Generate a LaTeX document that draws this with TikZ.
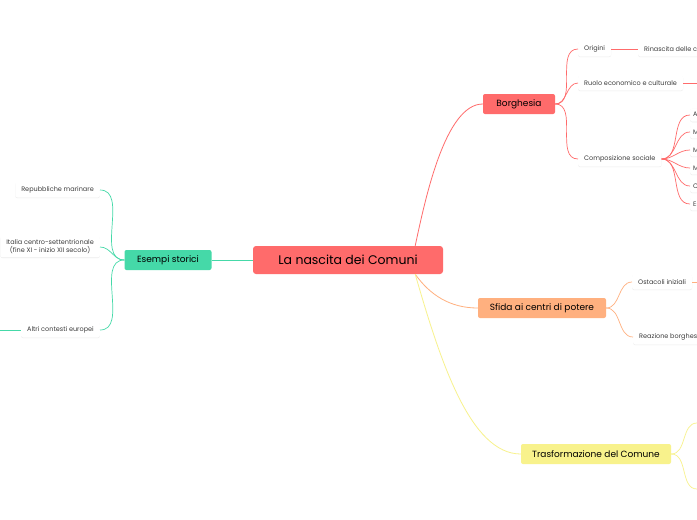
\documentclass[tikz,border=0pt]{standalone}
\usepackage{fontspec}
\setmainfont{Poppins}
\usetikzlibrary{calc}
\usetikzlibrary{positioning}
\usetikzlibrary{shadows}
\definecolor{rootred}{RGB}{255, 107, 107}
\definecolor{borred}{RGB}{255, 107, 107}
\definecolor{sfidaorange}{RGB}{255, 176, 127}
\definecolor{trasyellow}{RGB}{248, 242, 140}
\definecolor{esgreen}{RGB}{69, 217, 168}
\definecolor{leaftext}{RGB}{60, 60, 60}
\tikzset{
  mainbox/.style={rounded corners=2pt, minimum height=20pt, inner xsep=8pt, font=\fontsize{9}{10}\selectfont},
  leafbox/.style={fill=white, text=leaftext, rounded corners=2pt, drop shadow={opacity=0.15, shadow xshift=0pt, shadow yshift=-0.6pt},
    minimum height=15pt, inner xsep=6pt, font=\fontsize{6.5}{8}\selectfont, align=center},
  branch/.style={line width=0.7pt, out=0, in=180},
  lbranch/.style={line width=0.7pt, out=180, in=0}
}
\begin{document}
\begin{tikzpicture}[x=1pt, y=-1pt]
            \useasboundingbox (0,0) rectangle (697,520);
            \clip (0,0) rectangle (697,520);
            \fill[white] (0,0) rectangle (697,520);
            % main nodes
            \node[fill=rootred, rounded corners=3pt, minimum width=190pt, minimum height=28pt, font=\fontsize{12.5}{14}\selectfont] (root) at (348,260) {La nascita dei Comuni};
            \node[mainbox, fill=borred, minimum width=72pt]   (bor) at (519,104) {Borghesia};
            \node[mainbox, fill=sfidaorange, minimum width=128pt] (sfi) at (542,308) {Sfida ai centri di potere};
            \node[mainbox, fill=trasyellow, minimum width=150pt] (tra) at (596,454) {Trasformazione del Comune};
            \node[mainbox, fill=esgreen, minimum width=87pt] (esm) at (168,260) {Esempi storici};
            % Borghesia
            \node[leafbox, anchor=west] (ori) at (578,49)  {Origini};
            \node[leafbox, anchor=west] (rin) at (638,49)  {Rinascita delle città};
            \node[leafbox, anchor=west] (ruo) at (578,83)  {Ruolo economico e culturale};
            \node[leafbox, anchor=west] (com) at (578,159) {Composizione sociale};
            \foreach \name/\txt/\yy in {c1/Artigiani/115, c2/Mercanti/132, c3/Medici/150, c4/Maestri/168, c5/Cambiavalute/186, c6/Esercenti/204}
              \node[leafbox, anchor=west, minimum height=13pt, inner xsep=3pt] (\name) at (690,\yy) {\txt};
            % Sfida
            \node[leafbox, anchor=west] (ost) at (632,282) {Ostacoli iniziali};
            \node[leafbox, anchor=west] (rea) at (633,337) {Reazione borghese};
            % Trasformazione
            \coordinate (t1) at (697,423);
            \coordinate (t2) at (697,489);
            % Esempi
            \node[leafbox, anchor=east] (rep) at (100,190) {Repubbliche marinare};
            \node[leafbox, anchor=east] (ita) at (100,247) {Italia centro-settentrionale\\(fine XI - inizio XII secolo)};
            \node[leafbox, anchor=east] (alt) at (100,330) {Altri contesti europei};
            \coordinate (altend) at (0,330);
            \coordinate (ruoend) at (697,83);
            \coordinate (ostend) at (697,282);
            % connectors
            \draw[borred, line width=0.8pt] ($(root.north east)+(-28,0)$) .. controls (425,200) and (445,104) .. (bor.west);
            \draw[sfidaorange, line width=0.8pt] ($(root.south east)+(-28,0)$) .. controls (430,295) and (450,308) .. (sfi.west);
            \draw[trasyellow, line width=0.8pt] ($(root.south east)+(-28,0)$) .. controls (440,360) and (470,454) .. (tra.west);
            \draw[esgreen, line width=0.8pt] (root.west) -- (esm.east);
            \foreach \ch in {ori,ruo,com} \draw[borred, branch] (bor.east) to (\ch.west);
            \draw[borred, line width=0.7pt] (ori.east) -- (rin.west);
            \draw[borred, line width=0.7pt] (ruo.east) -- (ruoend);
            \foreach \ch in {c1,c2,c3,c4,c5,c6} \draw[borred, branch] (com.east) to (\ch.west);
            \foreach \ch in {ost,rea} \draw[sfidaorange, branch] (sfi.east) to (\ch.west);
            \draw[sfidaorange, line width=0.7pt] (ost.east) -- (ostend);
            \foreach \ch in {t1,t2} \draw[trasyellow, branch] (tra.east) to (\ch);
            \foreach \ch in {rep,ita,alt} \draw[esgreen, lbranch] (esm.west) to (\ch.east);
            \draw[esgreen, line width=0.7pt] (alt.west) -- (altend);
\end{tikzpicture}
\end{document}
